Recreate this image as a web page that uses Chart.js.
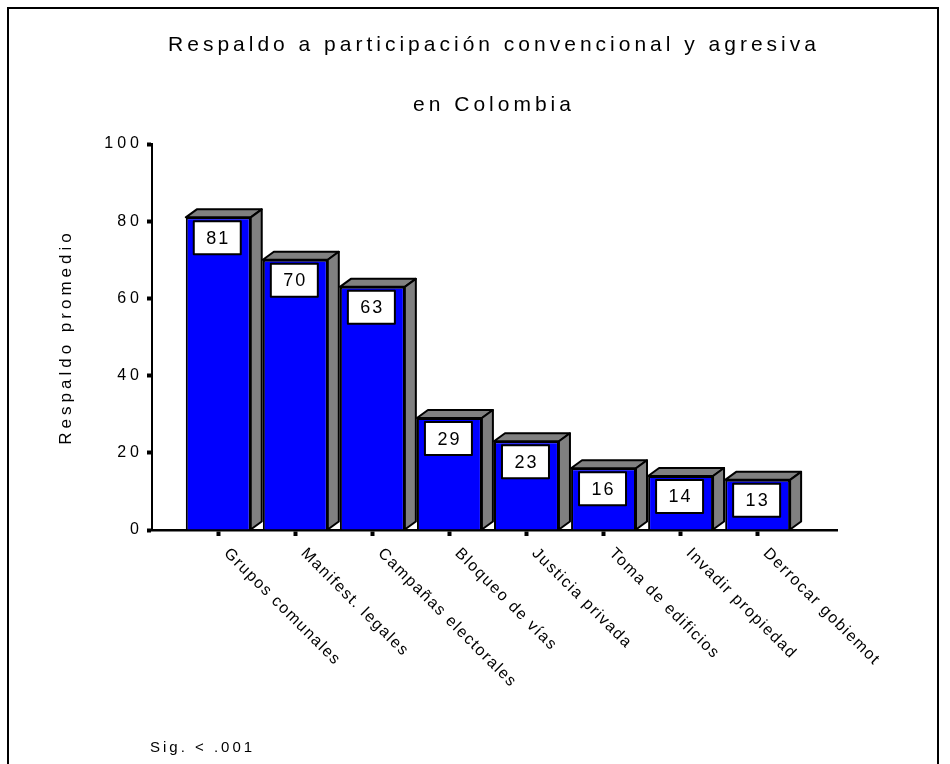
<!DOCTYPE html>
<html>
<head>
<meta charset="utf-8">
<script src="https://cdn.jsdelivr.net/npm/chart.js@4.4.1/dist/chart.umd.min.js"></script>
<style>
    body { margin: 0; background: #fff; overflow: hidden; }
    #frame { position: absolute; left: 7px; top: 7px; width: 932px; height: 900px; border: 2px solid #000; border-bottom: none; box-sizing: border-box; }
    #wrap { position: absolute; left: 0; top: 0; width: 950px; height: 764px; }
</style>
</head>
<body>
<div id="frame"></div>
<div id="wrap"><canvas id="chartRespaldo" width="950" height="764"></canvas></div>
<script>
// datos
const categorias = ['Grupos comunales', 'Manifest. legales', 'Campañas electorales', 'Bloqueo de vías',
    'Justicia privada', 'Toma de edificios', 'Invadir propiedad', 'Derrocar gobiemot'];
const respaldo = [81, 70, 63, 29, 23, 16, 14, 13];
const yTicks = [0, 20, 40, 60, 80, 100];
const titulo = ['Respaldo a participación convencional y agresiva', 'en Colombia'];
const tituloY = 'Respaldo promedio';
const nota = 'Sig. < .001';

const FONT = 'Arial, "Liberation Sans", sans-serif';
const DX = 11, DY = 8; // profundidad 3D

const efecto3d = {
    id: 'efecto3d',
    beforeDraw(chart) {
        chart.ctx.letterSpacing = '4px';
    },
    afterDatasetsDraw(chart) {
        const ctx = chart.ctx;
        const meta = chart.getDatasetMeta(0);
        ctx.save();
        ctx.lineWidth = 2;
        ctx.strokeStyle = '#000';
        ctx.lineJoin = 'round';
        meta.data.forEach(function(bar, i) {
            const p = bar.getProps(['x', 'y', 'base', 'width'], true);
            const l = p.x - p.width / 2, r = p.x + p.width / 2;
            // cara superior
            ctx.fillStyle = '#808080';
            ctx.beginPath();
            ctx.moveTo(l, p.y);
            ctx.lineTo(l + DX, p.y - DY);
            ctx.lineTo(r + DX, p.y - DY);
            ctx.lineTo(r, p.y);
            ctx.closePath();
            ctx.fill();
            ctx.stroke();
            // cara lateral
            ctx.beginPath();
            ctx.moveTo(r, p.y);
            ctx.lineTo(r + DX, p.y - DY);
            ctx.lineTo(r + DX, p.base - DY);
            ctx.lineTo(r, p.base);
            ctx.closePath();
            ctx.fill();
            ctx.stroke();
            // etiqueta de valor
            const bw = 47, bh = 33;
            const cx = p.x - 1, top = p.y + 4;
            ctx.fillStyle = '#fff';
            ctx.fillRect(cx - bw / 2, top, bw, bh);
            ctx.strokeRect(cx - bw / 2, top, bw, bh);
            ctx.fillStyle = '#000';
            ctx.font = '18px ' + FONT;
            ctx.letterSpacing = '2px';
            ctx.textAlign = 'center';
            ctx.textBaseline = 'middle';
            ctx.fillText(String(respaldo[i]), cx + 1, top + bh / 2 + 1);
        });
        ctx.restore();
    },
    afterDraw(chart) {
        const ctx = chart.ctx;
        const xs = chart.scales.x;
        ctx.save();
        ctx.fillStyle = '#000';
        ctx.font = '16px ' + FONT;
        ctx.letterSpacing = '1.5px';
        ctx.textAlign = 'left';
        ctx.textBaseline = 'middle';
        categorias.forEach(function(c, i) {
            const px = xs.getPixelForValue(i);
            ctx.save();
            ctx.translate(px + 8, xs.top + 21);
            ctx.rotate(Math.PI / 4);
            ctx.fillText(c, 0, 0);
            ctx.restore();
        });
        ctx.font = '15px ' + FONT;
        ctx.letterSpacing = '3px';
        ctx.fillText(nota, 150, 748);
        ctx.restore();
        ctx.letterSpacing = '0px';
    }
};

const ctx = document.getElementById('chartRespaldo');
new Chart(ctx, {
    type: 'bar',
    data: {
        datasets: [{
            data: respaldo.map(function(v, i) { return {x: i, y: v}; }),
            backgroundColor: '#0000ff',
            borderColor: '#000',
            borderWidth: 2,
            barPercentage: 0.843,
            categoryPercentage: 1
        }]
    },
    options: {
        responsive: false,
        animation: false,
        layout: { padding: { left: 38, right: 0, top: 0, bottom: 0 } },
        plugins: {
            legend: { display: false },
            tooltip: { enabled: false },
            title: {
                display: true,
                text: titulo,
                color: '#000',
                font: { family: FONT, size: 21, weight: 'normal', lineHeight: 60 / 21 },
                padding: { top: 15, bottom: 9 }
            }
        },
        scales: {
            x: {
                type: 'linear',
                min: -0.86,
                max: 8.03,
                offset: false,
                position: 'bottom',
                afterBuildTicks: function(s) {
                    s.ticks = categorias.map(function(c, i) { return {value: i}; });
                },
                afterFit: function(s) { s.height = 234; },
                ticks: { display: false },
                grid: { display: true, offset: false, drawOnChartArea: false, drawTicks: true, tickLength: 6, tickWidth: 4, tickColor: '#000' },
                border: { display: true, color: '#000', width: 2.5 }
            },
            y: {
                min: 0,
                max: 100,
                afterBuildTicks: function(s) {
                    s.ticks = yTicks.map(function(v) { return {value: v}; });
                },
                afterFit: function(s) { s.width = 114; },
                ticks: { color: '#000', font: { family: FONT, size: 16 }, padding: 4 },
                grid: { display: true, drawOnChartArea: false, drawTicks: true, tickLength: 5, tickWidth: 4, tickColor: '#000' },
                border: { display: true, color: '#000', width: 2 },
                title: {
                    display: true,
                    text: tituloY,
                    color: '#000',
                    font: { family: FONT, size: 17 },
                    padding: { top: 18, bottom: 0 }
                }
            },
            y2: {
                position: 'right',
                afterFit: function(s) { s.width = 113; },
                ticks: { display: false },
                grid: { display: false },
                border: { display: false }
            }
        }
    },
    plugins: [efecto3d]
});
</script>
</body>
</html>
